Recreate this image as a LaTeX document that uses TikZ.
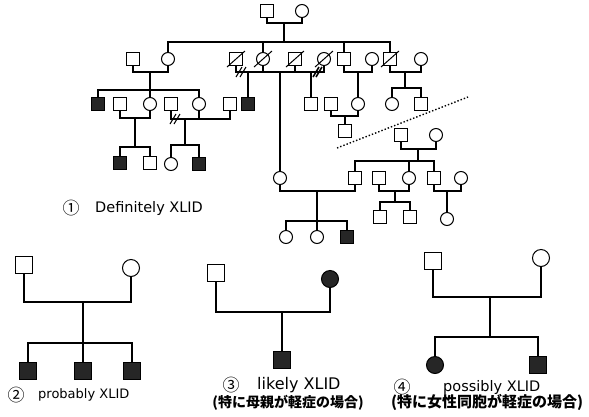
\documentclass[tikz,border=0pt]{standalone}
\usepackage{fontspec}
\setmainfont{DejaVu Sans}
\newfontfamily\jpfont{Noto Sans CJK JP}
\usetikzlibrary{positioning,calc}

\begin{document}
\begin{tikzpicture}[
    x=1pt, y=-1pt,
    male/.style={rectangle, draw, line width=1pt, minimum size=13pt, inner sep=0pt},
    female/.style={circle, draw, line width=1pt, minimum size=13pt, inner sep=0pt},
    big/.style={minimum size=17pt},
    aff/.style={fill=black!85},
    line/.style={line width=1.2pt},
    divmark/.style={line width=1.1pt},
    lbl/.style={inner sep=0pt, anchor=west},
    num/.style={inner sep=0pt, font=\jpfont\fontsize{17}{19}\selectfont}
]
\useasboundingbox (0,0) rectangle (589,416);

% (1) large pedigree
\node[male]   (g1m) at (267,11) {};
\node[female] (g1f) at (302,11) {};
\coordinate (u1) at (284,23);
\coordinate (s1) at (284,42);
\draw[line] (g1m) |- (u1) -| (g1f);
\draw[line] (u1) -- (s1);

\node[male]   (a1)  at (133,59) {};
\node[female] (a2)  at (168,59) {};
\node[male]   (a3)  at (236,59) {};
\node[female] (a4)  at (263,59) {};
\node[male]   (a5)  at (295,59) {};
\node[female] (a6)  at (324,59) {};
\node[male]   (a7)  at (344,59) {};
\node[female] (a8)  at (372,59) {};
\node[male]   (a9)  at (390,59) {};
\node[female] (a10) at (421,59) {};
\foreach \k in {a2,a4,a7,a9} \draw[line] (s1) -| (\k);
\foreach \n in {a3,a4,a5,a6,a9} \draw[line width=1pt] ($(\n)+(-9,8)$) -- ($(\n)+(9,-8)$);

\node[male,aff] (b1)  at (98,104)  {};
\node[male]     (b2)  at (120,104) {};
\node[female]   (b3)  at (150,104) {};
\node[male]     (b4)  at (171,104) {};
\node[female]   (b5)  at (199,104) {};
\node[male]     (b6)  at (230,104) {};
\node[male,aff] (b7)  at (248,104) {};
\node[male]     (b8)  at (311,104) {};
\node[male]     (b9)  at (331,104) {};
\node[female]   (b10) at (358,104) {};
\node[female]   (b11) at (392,104) {};
\node[male]     (b12) at (421,104) {};
\node[male]     (b13) at (345,131) {};

\coordinate (u2) at (150,72);
\coordinate (s2) at (150,90);
\draw[line] (a1) |- (u2) -| (a2);
\draw[line] (u2) -- (s2);
\foreach \k in {b1,b3,b5} \draw[line] (s2) -| (\k);

\coordinate (u3) at (248,72);
\draw[line] (a3) |- (u3) -| (a4);
\draw[line] (u3) -- (b7);
\foreach \d in {-9,-5} \draw[divmark] ($(u3)+(\d,0)+(-3,5)$) -- ++(6,-10);

\node[female] (c1) at (280,178) {};
\coordinate (u4) at (280,72);
\draw[line] (a4) |- (u4) -| (a5);
\draw[line] (u4) -- (c1);

\coordinate (u5) at (311,72);
\draw[line] (a5) |- (u5) -| (a6);
\draw[line] (u5) -- (b8);
\foreach \d in {5,8} \draw[line width=1.6pt] ($(u5)+(\d,0)+(-3,5)$) -- ++(6,-10);

\coordinate (u6) at (358,72);
\draw[line] (a7) |- (u6) -| (a8);
\draw[line] (u6) -- (b10);

\coordinate (u7) at (405,72);
\coordinate (s7) at (405,88);
\draw[line] (a9) |- (u7) -| (a10);
\draw[line] (u7) -- (s7);
\foreach \k in {b11,b12} \draw[line] (s7) -| (\k);

\node[male,aff] (c2) at (120,163) {};
\node[male]     (c3) at (150,163) {};
\node[female]   (c4) at (171,164) {};
\node[male,aff] (c5) at (199,164) {};

\coordinate (u8) at (135,118);
\coordinate (s8) at (135,147);
\draw[line] (b2) |- (u8) -| (b3);
\draw[line] (u8) -- (s8);
\foreach \k in {c2,c3} \draw[line] (s8) -| (\k);

\coordinate (u9) at (185,119);
\coordinate (s9) at (185,145);
\draw[line] (b4) |- (u9) -| (b5);
\draw[line] (u9) -- (s9);
\foreach \k in {c4,c5} \draw[line] (s9) -| (\k);
\foreach \d in {-12,-8} \draw[divmark] ($(u9)+(\d,0)+(-3,5)$) -- ++(6,-10);

\coordinate (u10) at (215,119);
\draw[line] (b5) |- (u10) -| (b6);

\coordinate (u11) at (345,116);
\draw[line] (b9) |- (u11) -| (b10);
\draw[line] (u11) -- (b13);

% cut line
\coordinate (cut1) at (337,148);
\coordinate (cut2) at (468,97);
\draw[dotted, line width=1.4pt] (cut1) -- (cut2);

\node[male]   (d1) at (401,135) {};
\node[female] (d2) at (436,135) {};
\node[male]   (e1) at (355,178) {};
\node[male]   (e2) at (379,178) {};
\node[female] (e3) at (409,178) {};
\node[male]   (e4) at (434,178) {};
\node[female] (e5) at (461,178) {};
\coordinate (u12) at (418,149);
\coordinate (s12) at (418,161);
\draw[line] (d1) |- (u12) -| (d2);
\draw[line] (u12) -- (s12);
\foreach \k in {e1,e3,e4} \draw[line] (s12) -| (\k);

\node[female]   (f1) at (286,237) {};
\node[female]   (f2) at (317,237) {};
\node[male,aff] (f3) at (347,237) {};
\node[male]     (f4) at (380,217) {};
\node[male]     (f5) at (410,217) {};
\node[female]   (f6) at (447,219) {};

\coordinate (u13) at (317,191);
\coordinate (s13) at (317,221);
\draw[line] (c1) |- (u13) -| (e1);
\draw[line] (u13) -- (s13);
\foreach \k in {f1,f2,f3} \draw[line] (s13) -| (\k);

\coordinate (u14) at (395,191);
\coordinate (s14) at (395,202);
\draw[line] (e2) |- (u14) -| (e3);
\draw[line] (u14) -- (s14);
\foreach \k in {f4,f5} \draw[line] (s14) -| (\k);

\coordinate (u15) at (447,191);
\draw[line] (e4) |- (u15) -| (e5);
\draw[line] (u15) -- (f6);

\node[num] (n1) at (71,208) {①};
\node[lbl] (t1) at (95,208) {\fontsize{14.5}{17}\selectfont Definitely XLID};

% (2)
\node[male,big]   (p2m) at (24,265) {};
\node[female,big] (p2f) at (131,268) {};
\node[male,big,aff] (q1) at (28,371) {};
\node[male,big,aff] (q2) at (83,371) {};
\node[male,big,aff] (q3) at (132,371) {};
\coordinate (v2) at (83,302);
\coordinate (w2) at (83,343);
\draw[line] (p2m) |- (v2) -| (p2f);
\draw[line] (v2) -- (w2);
\foreach \k in {q1,q2,q3} \draw[line] (w2) -| (\k);
\node[num] (n2) at (16,395) {②};
\node[lbl] (t2) at (38,395) {\fontsize{13}{15}\selectfont probably XLID};

% (3)
\node[male,big]       (p3m) at (216,273) {};
\node[female,big,aff] (p3f) at (330,279) {};
\node[male,big,aff]   (q4)  at (282,360) {};
\coordinate (v3) at (282,312);
\draw[line] (p3m) |- (v3) -| (p3f);
\draw[line] (v3) -- (q4);
\node[num] (n3) at (231,385) {③};
\node[lbl] (t3) at (257,385) {\fontsize{16}{18}\selectfont likely XLID};
\node (j3) at (288,403) {\jpfont\bfseries\fontsize{14}{16}\selectfont (特に母親が軽症の場合)};

% (4)
\node[male,big]       (p4m) at (433,261) {};
\node[female,big]     (p4f) at (541,258) {};
\node[female,big,aff] (q5)  at (435,365) {};
\node[male,big,aff]   (q6)  at (538,365) {};
\coordinate (v4) at (490,297);
\coordinate (w4) at (490,337);
\draw[line] (p4m) |- (v4) -| (p4f);
\draw[line] (v4) -- (w4);
\foreach \k in {q5,q6} \draw[line] (w4) -| (\k);
\node[num] (n4) at (402,387) {④};
\node[lbl] (t4) at (443,387) {\fontsize{14.5}{17}\selectfont possibly XLID};
\node (j4) at (487,402) {\jpfont\bfseries\fontsize{15}{17}\selectfont (特に女性同胞が軽症の場合)};
\end{tikzpicture}
\end{document}
